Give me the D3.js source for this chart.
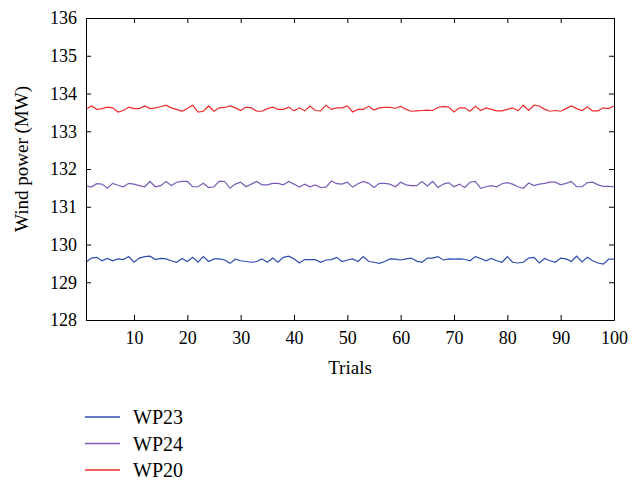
<!DOCTYPE html>
<html>
<head>
<meta charset="utf-8">
<script src="https://cdn.jsdelivr.net/npm/d3@7"></script>
<style>
  body { margin: 0; background: #fff; }
</style>
</head>
<body>
<div id="chart"></div>
<script>
// data
const trials = d3.range(1, 101);
const yTicks = [128, 129, 130, 131, 132, 133, 134, 135, 136];
const xTicks = [10, 20, 30, 40, 50, 60, 70, 80, 90, 100];

const wp23 = [
  129.53,129.64,129.66,129.57,129.63,129.57,129.62,129.60,129.68,129.53,129.64,129.68,129.69,129.60,129.63,129.62,129.57,129.53,129.63,129.55,
  129.66,129.53,129.68,129.55,129.62,129.62,129.59,129.50,129.61,129.57,129.55,129.53,129.55,129.62,
  129.53,129.64,129.53,129.66,129.69,129.62,129.51,129.60,129.60,129.60,129.53,129.59,129.60,129.66,129.55,129.59,129.62,129.55,129.68,129.55,
  129.53,129.50,129.55,129.62,129.61,129.59,129.62,129.64,129.56,129.53,129.64,129.64,129.68,129.59,
  129.62,129.61,129.62,129.61,129.57,129.68,129.63,129.57,129.63,129.57,129.53,129.68,129.53,129.51,129.53,129.64,
  129.66,129.51,129.63,129.57,129.53,129.64,129.62,129.55,129.69,129.54,129.66,129.57,129.51,129.48,129.61,129.61
];
const wp24 = [
  131.56,131.52,131.61,131.60,131.49,131.62,131.57,131.53,131.62,131.60,131.56,131.53,131.67,131.53,131.56,131.67,131.56,131.65,131.67,131.67,
  131.53,131.53,131.62,131.51,131.53,131.68,131.67,131.49,131.60,131.65,131.53,131.60,131.67,131.58,
  131.58,131.62,131.62,131.58,131.67,131.60,131.52,131.60,131.53,131.58,131.51,131.52,131.68,131.61,131.60,131.65,131.52,131.61,131.67,131.62,
  131.51,131.62,131.62,131.60,131.53,131.65,131.58,131.56,131.56,131.67,131.55,131.67,131.51,131.60,
  131.64,131.53,131.60,131.51,131.65,131.67,131.49,131.53,131.56,131.53,131.61,131.64,131.60,131.53,131.49,131.63,
  131.56,131.60,131.62,131.65,131.65,131.58,131.62,131.67,131.53,131.53,131.64,131.65,131.58,131.54,131.54,131.53
];
const wp20 = [
  133.58,133.67,133.58,133.60,133.64,133.62,133.51,133.55,133.64,133.60,133.60,133.67,133.60,133.62,133.65,133.69,133.62,133.58,133.53,133.60,
  133.69,133.51,133.53,133.67,133.53,133.62,133.63,133.67,133.62,133.55,133.64,133.62,133.53,133.53,
  133.60,133.64,133.58,133.58,133.64,133.54,133.62,133.54,133.67,133.55,133.54,133.69,133.58,133.62,133.62,133.67,133.51,133.58,133.58,133.66,
  133.56,133.62,133.63,133.63,133.61,133.66,133.58,133.53,133.54,133.55,133.56,133.55,133.63,133.66,
  133.64,133.51,133.62,133.62,133.53,133.66,133.55,133.62,133.58,133.54,133.54,133.58,133.62,133.54,133.69,133.55,
  133.69,133.67,133.58,133.53,133.55,133.53,133.60,133.67,133.60,133.55,133.64,133.54,133.54,133.62,133.60,133.67
];

const seriesNames = ["WP23", "WP24", "WP20"];
const seriesColors = ["#2f4db0", "#7a5cb8", "#ee2b2b"];
const seriesData = [wp23, wp24, wp20];

const serif = "'Liberation Serif', 'Times New Roman', Times, serif";

// 画布
const width = 642, height = 483;
const margin = { left: 86, right: 28, top: 18, bottom: 163 };
const plotW = width - margin.left - margin.right;
const plotH = height - margin.top - margin.bottom;

const svg = d3.select("#chart").append("svg")
  .attr("width", width)
  .attr("height", height);

const x = d3.scaleLinear().domain([1, 100]).range([margin.left, margin.left + plotW]);
const y = d3.scaleLinear().domain([128, 136]).range([margin.top + plotH, margin.top]);

// 曲线
const line = d3.line()
  .x((d, i) => x(trials[i]))
  .y(d => y(d));

svg.append("g")
  .selectAll("path")
  .data(seriesData)
  .enter()
  .append("path")
  .attr("d", d => line(d))
  .attr("fill", "none")
  .attr("stroke", (d, i) => seriesColors[i])
  .attr("stroke-width", 1.2);

// 坐标轴 (ticks inward, box all round)
const tick = 5;
const axes = svg.append("g").attr("class", "axes");
axes.append("g")
  .attr("transform", `translate(${margin.left},0)`)
  .call(d3.axisLeft(y).tickValues(yTicks).tickFormat(d3.format("d"))
    .tickSizeInner(-tick).tickSizeOuter(0).tickPadding(9));
axes.append("g")
  .attr("transform", `translate(${margin.left + plotW},0)`)
  .call(d3.axisRight(y).tickValues(yTicks).tickFormat("")
    .tickSizeInner(-tick).tickSizeOuter(0));
axes.append("g")
  .attr("transform", `translate(0,${margin.top + plotH})`)
  .call(d3.axisBottom(x).tickValues(xTicks).tickFormat(d3.format("d"))
    .tickSizeInner(-tick).tickSizeOuter(0).tickPadding(11));
axes.append("g")
  .attr("transform", `translate(0,${margin.top})`)
  .call(d3.axisTop(x).tickValues(xTicks).tickFormat("")
    .tickSizeInner(-tick).tickSizeOuter(0));

axes.selectAll("g").attr("font-family", serif).attr("font-size", 18);
axes.selectAll(".tick text").attr("font-family", serif).style("font-family", serif).style("font-size", "18px");
axes.selectAll(".domain").attr("stroke", "#000");

// 轴标题
svg.append("text")
  .attr("x", margin.left + plotW / 2)
  .attr("y", 374)
  .attr("text-anchor", "middle")
  .style("font-family", serif)
  .style("font-size", "19px")
  .text("Trials");

svg.append("text")
  .attr("transform", `translate(28,${margin.top + plotH / 2 - 10}) rotate(-90)`)
  .attr("text-anchor", "middle")
  .style("font-family", serif)
  .style("font-size", "19px")
  .text("Wind power (MW)");

// 图例
const legend = svg.append("g")
  .selectAll("g")
  .data(seriesNames)
  .enter()
  .append("g")
  .attr("transform", (d, i) => `translate(85,${417 + i * 26.5})`);

legend.append("line")
  .attr("x1", 0).attr("x2", 35)
  .attr("stroke", (d, i) => seriesColors[i])
  .attr("stroke-width", 1.4);

legend.append("text")
  .attr("x", 48)
  .attr("y", 7)
  .style("font-family", serif)
  .style("font-size", "20px")
  .text(d => d);
</script>
</body>
</html>
